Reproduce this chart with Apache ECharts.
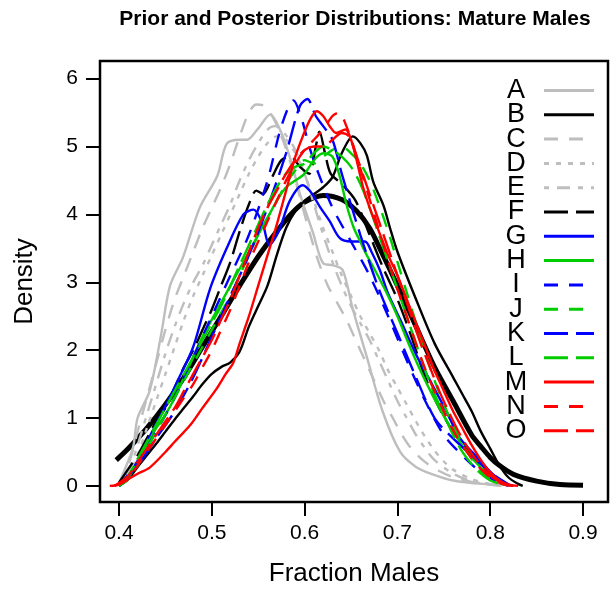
<!DOCTYPE html>
<html>
<head>
<meta charset="utf-8">
<script src="https://cdn.jsdelivr.net/npm/echarts@6/dist/echarts.min.js"></script>
<style>
html,body{margin:0;padding:0;background:#fff}
#chart{width:612px;height:592px}
</style>
</head>
<body>
<div id="chart"></div>
<script>
// tick labels
var xTicks = [0.4, 0.5, 0.6, 0.7, 0.8, 0.9];
var yTicks = [0, 1, 2, 3, 4, 5, 6];

// legend names
var names = ['A','B','C','D','E','F','G','H','I','J','K','L','M','N','O'];

// prior (thick black)
var prior = [[0.397,0.38],[0.41,0.55],[0.43,0.85],[0.45,1.2],[0.47,1.6],[0.49,2.05],[0.51,2.5],[0.53,2.95],[0.55,3.38],[0.57,3.75],[0.585,4.0],[0.60,4.18],[0.62,4.28],[0.64,4.22],[0.656,4.05],[0.67,3.8],[0.681,3.5],[0.70,2.95],[0.72,2.35],[0.74,1.75],[0.76,1.25],[0.78,0.75],[0.79,0.58],[0.80,0.42],[0.81,0.3],[0.825,0.17],[0.85,0.07],[0.875,0.02],[0.90,0.01]];

// posterior curves: [fraction males, density]
var curveA = [[0.400,0.03],[0.404,0.17],[0.415,0.56],[0.42,1.0],[0.433,1.4],[0.445,2.2],[0.455,2.95],[0.469,3.37],[0.487,4.1],[0.506,4.57],[0.516,5.04],[0.530,5.1],[0.538,5.1],[0.549,5.25],[0.563,5.47],[0.575,5.2],[0.585,4.8],[0.595,4.3],[0.609,3.73],[0.620,3.28],[0.631,3.25],[0.641,3.18],[0.652,2.6],[0.667,1.9],[0.684,1.1],[0.703,0.5],[0.72,0.28],[0.738,0.17],[0.76,0.08],[0.792,0.03],[0.818,0.02]];
var curveB = [[0.40,0],[0.41,0.1],[0.42,0.28],[0.43,0.45],[0.44,0.62],[0.45,0.8],[0.46,0.98],[0.47,1.15],[0.48,1.32],[0.49,1.5],[0.50,1.65],[0.51,1.75],[0.52,1.82],[0.53,1.98],[0.54,2.35],[0.55,2.65],[0.56,2.95],[0.57,3.4],[0.58,3.8],[0.59,4.05],[0.60,4.2],[0.61,4.3],[0.62,4.4],[0.63,4.55],[0.64,4.9],[0.652,5.15],[0.66,5.05],[0.667,4.87],[0.674,4.48],[0.685,4.13],[0.692,3.8],[0.70,3.45],[0.72,2.75],[0.74,2.1],[0.76,1.6],[0.77,1.35],[0.78,1.1],[0.79,0.8],[0.80,0.55],[0.81,0.3],[0.82,0.12],[0.83,0.03],[0.835,0]];
var curveC = [[0.40,0],[0.41,0.3],[0.42,0.8],[0.43,1.3],[0.44,1.8],[0.45,2.3],[0.46,2.75],[0.47,3.1],[0.48,3.45],[0.49,3.8],[0.50,4.1],[0.51,4.4],[0.52,4.75],[0.53,5.15],[0.54,5.5],[0.548,5.62],[0.556,5.6],[0.565,5.45],[0.575,5.15],[0.585,4.75],[0.595,4.25],[0.605,3.75],[0.615,3.3],[0.625,2.95],[0.635,2.7],[0.645,2.45],[0.655,2.15],[0.665,1.85],[0.675,1.55],[0.685,1.25],[0.695,1.0],[0.705,0.75],[0.715,0.55],[0.73,0.35],[0.745,0.22],[0.76,0.13],[0.78,0.06],[0.80,0.02],[0.815,0]];
var curveD = [[0.40,0],[0.41,0.15],[0.42,0.45],[0.43,0.85],[0.44,1.25],[0.45,1.65],[0.46,2.05],[0.47,2.45],[0.48,2.8],[0.49,3.1],[0.50,3.4],[0.51,3.7],[0.52,4.0],[0.53,4.3],[0.54,4.6],[0.55,4.85],[0.56,5.05],[0.57,5.15],[0.58,5.1],[0.59,4.9],[0.60,4.6],[0.61,4.2],[0.62,3.8],[0.63,3.45],[0.64,3.1],[0.65,2.8],[0.66,2.5],[0.67,2.25],[0.68,2.0],[0.69,1.7],[0.70,1.45],[0.71,1.2],[0.72,0.95],[0.73,0.72],[0.74,0.52],[0.75,0.36],[0.76,0.24],[0.78,0.1],[0.80,0.03],[0.815,0]];
var curveE = [[0.40,0],[0.41,0.2],[0.42,0.6],[0.43,1.05],[0.44,1.5],[0.45,1.95],[0.46,2.35],[0.47,2.7],[0.48,3.0],[0.49,3.25],[0.50,3.55],[0.51,3.85],[0.52,4.15],[0.53,4.5],[0.54,4.8],[0.55,5.05],[0.56,5.25],[0.568,5.3],[0.578,5.2],[0.59,4.95],[0.60,4.6],[0.61,4.15],[0.62,3.7],[0.63,3.3],[0.64,2.95],[0.65,2.65],[0.66,2.4],[0.67,2.15],[0.68,1.85],[0.69,1.55],[0.70,1.25],[0.71,1.0],[0.72,0.75],[0.73,0.55],[0.74,0.38],[0.76,0.18],[0.78,0.07],[0.80,0.02],[0.815,0]];
var curveF = [[0.40,0.05],[0.41,0.25],[0.42,0.45],[0.43,0.7],[0.44,0.95],[0.45,1.15],[0.46,1.45],[0.47,1.75],[0.48,2.0],[0.49,2.3],[0.50,2.6],[0.51,2.95],[0.52,3.3],[0.53,3.75],[0.54,4.15],[0.548,4.35],[0.555,4.3],[0.565,4.55],[0.575,4.8],[0.585,4.85],[0.595,4.7],[0.605,4.6],[0.612,5.0],[0.616,5.22],[0.622,4.9],[0.628,4.6],[0.64,4.45],[0.655,4.2],[0.67,3.7],[0.685,3.2],[0.70,2.75],[0.715,2.2],[0.73,1.6],[0.745,1.15],[0.76,0.8],[0.775,0.55],[0.79,0.3],[0.805,0.12],[0.82,0.02]];
var curveG = [[0.400,0],[0.412,0.17],[0.43,0.65],[0.452,1.23],[0.465,1.6],[0.48,2.05],[0.498,2.9],[0.516,3.5],[0.534,4.0],[0.545,4.07],[0.555,3.85],[0.562,3.55],[0.572,3.75],[0.584,4.2],[0.598,4.43],[0.606,4.34],[0.617,4.1],[0.627,3.9],[0.638,3.65],[0.65,3.6],[0.665,3.6],[0.672,3.45],[0.681,3.18],[0.69,2.83],[0.703,2.45],[0.721,1.91],[0.738,1.48],[0.753,1.09],[0.767,0.71],[0.786,0.42],[0.803,0.17],[0.818,0.03],[0.825,0]];
var curveH = [[0.40,0],[0.41,0.12],[0.42,0.35],[0.43,0.6],[0.44,0.85],[0.45,1.05],[0.46,1.3],[0.47,1.6],[0.48,1.9],[0.49,2.2],[0.50,2.45],[0.51,2.7],[0.52,2.95],[0.53,3.2],[0.54,3.45],[0.55,3.7],[0.56,3.95],[0.57,4.2],[0.58,4.4],[0.59,4.5],[0.60,4.6],[0.61,4.8],[0.62,4.9],[0.63,4.85],[0.638,4.55],[0.645,4.15],[0.653,3.8],[0.66,3.6],[0.665,3.45],[0.675,3.2],[0.69,2.8],[0.70,2.5],[0.715,2.0],[0.73,1.55],[0.745,1.15],[0.76,0.8],[0.775,0.5],[0.79,0.27],[0.805,0.1],[0.815,0.02]];
var curveI = [[0.40,0],[0.42,0.35],[0.44,0.8],[0.46,1.3],[0.48,1.9],[0.50,2.5],[0.52,3.1],[0.54,3.7],[0.56,4.5],[0.575,5.3],[0.588,5.68],[0.597,5.4],[0.605,5.0],[0.615,4.6],[0.63,4.1],[0.65,3.6],[0.67,3.1],[0.69,2.5],[0.71,1.85],[0.73,1.25],[0.75,0.75],[0.77,0.45],[0.79,0.2],[0.81,0.05],[0.82,0]];
var curveJ = [[0.40,0],[0.41,0.1],[0.42,0.3],[0.43,0.55],[0.44,0.8],[0.45,1.05],[0.46,1.3],[0.47,1.55],[0.48,1.8],[0.49,2.05],[0.50,2.3],[0.51,2.55],[0.52,2.8],[0.53,3.1],[0.54,3.4],[0.55,3.7],[0.56,3.95],[0.57,4.2],[0.58,4.45],[0.59,4.65],[0.60,4.8],[0.61,4.75],[0.62,4.85],[0.63,4.95],[0.64,5.0],[0.65,4.9],[0.66,4.75],[0.67,4.5],[0.68,4.15],[0.69,3.75],[0.70,3.3],[0.71,2.85],[0.72,2.4],[0.73,1.95],[0.74,1.55],[0.75,1.2],[0.76,0.9],[0.77,0.62],[0.78,0.4],[0.79,0.22],[0.80,0.1],[0.815,0.02]];
var curveK = [[0.40,0],[0.42,0.3],[0.44,0.7],[0.46,1.1],[0.48,1.6],[0.50,2.2],[0.52,2.8],[0.54,3.4],[0.56,4.1],[0.58,4.9],[0.595,5.6],[0.603,5.7],[0.612,5.45],[0.62,5.3],[0.63,5.1],[0.64,4.6],[0.66,3.7],[0.68,2.9],[0.70,2.25],[0.72,1.6],[0.74,1.0],[0.76,0.7],[0.78,0.45],[0.80,0.2],[0.82,0.02]];
var curveL = [[0.40,0],[0.41,0.15],[0.42,0.4],[0.43,0.65],[0.44,0.9],[0.45,1.15],[0.46,1.4],[0.47,1.65],[0.48,1.9],[0.49,2.15],[0.50,2.4],[0.51,2.65],[0.52,2.95],[0.53,3.25],[0.54,3.55],[0.55,3.85],[0.56,4.15],[0.57,4.4],[0.58,4.6],[0.59,4.7],[0.60,4.75],[0.61,4.9],[0.62,5.0],[0.63,4.95],[0.64,4.85],[0.65,4.7],[0.66,4.45],[0.67,4.1],[0.68,3.7],[0.69,3.3],[0.70,2.9],[0.71,2.5],[0.72,2.1],[0.73,1.7],[0.74,1.35],[0.75,1.05],[0.76,0.75],[0.77,0.5],[0.78,0.32],[0.79,0.18],[0.80,0.08],[0.815,0.01]];
var curveM = [[0.39,0],[0.40,0.02],[0.41,0.1],[0.42,0.18],[0.433,0.27],[0.45,0.5],[0.46,0.65],[0.477,0.9],[0.49,1.15],[0.505,1.43],[0.515,1.65],[0.523,1.81],[0.53,2.1],[0.54,2.5],[0.55,2.95],[0.56,3.4],[0.57,3.85],[0.58,4.35],[0.59,4.85],[0.598,5.15],[0.606,5.4],[0.613,5.52],[0.62,5.45],[0.627,5.3],[0.634,5.2],[0.644,5.25],[0.65,5.1],[0.656,4.8],[0.663,4.4],[0.67,4.1],[0.68,3.75],[0.69,3.4],[0.70,3.1],[0.71,2.75],[0.72,2.4],[0.73,2.05],[0.74,1.7],[0.75,1.4],[0.76,1.1],[0.77,0.85],[0.78,0.6],[0.79,0.38],[0.80,0.2],[0.81,0.08],[0.82,0.02],[0.83,0]];
var curveN = [[0.395,0],[0.41,0.12],[0.42,0.3],[0.43,0.5],[0.44,0.7],[0.45,0.9],[0.46,1.1],[0.47,1.3],[0.48,1.5],[0.49,1.75],[0.50,2.0],[0.51,2.3],[0.52,2.6],[0.53,2.95],[0.54,3.3],[0.55,3.6],[0.56,3.9],[0.57,4.2],[0.58,4.5],[0.59,4.75],[0.60,4.95],[0.61,5.1],[0.62,5.25],[0.63,5.45],[0.637,5.5],[0.645,5.3],[0.655,4.9],[0.665,4.45],[0.675,4.0],[0.685,3.55],[0.695,3.1],[0.705,2.7],[0.715,2.3],[0.725,1.9],[0.735,1.55],[0.745,1.25],[0.755,0.95],[0.765,0.7],[0.775,0.5],[0.785,0.32],[0.795,0.18],[0.805,0.08],[0.815,0.02],[0.825,0]];
var curveO = [[0.395,0],[0.41,0.15],[0.42,0.35],[0.43,0.55],[0.44,0.75],[0.45,0.95],[0.46,1.15],[0.47,1.4],[0.48,1.65],[0.49,1.9],[0.50,2.15],[0.51,2.45],[0.52,2.75],[0.53,3.1],[0.54,3.45],[0.55,3.8],[0.56,4.1],[0.57,4.35],[0.58,4.6],[0.59,4.8],[0.60,4.95],[0.61,5.0],[0.62,5.0],[0.63,5.1],[0.64,5.2],[0.648,5.15],[0.655,4.9],[0.665,4.5],[0.675,4.1],[0.685,3.7],[0.695,3.3],[0.705,2.9],[0.715,2.5],[0.725,2.1],[0.735,1.75],[0.745,1.4],[0.755,1.1],[0.765,0.82],[0.775,0.58],[0.785,0.38],[0.795,0.22],[0.805,0.1],[0.815,0.03],[0.825,0]];

var curves = [curveA, curveB, curveC, curveD, curveE, curveF, curveG, curveH,
              curveI, curveJ, curveK, curveL, curveM, curveN, curveO];

var GRAY = '#BEBEBE', BLUE = '#0000FF', GREEN = '#00CD00', RED = '#FF0000';
var colors = [GRAY, '#000', GRAY, GRAY, GRAY, '#000', BLUE, GREEN,
              BLUE, GREEN, BLUE, GREEN, RED, RED, RED];
var DASH = [14, 11], LONG = [24, 8], DOT = [5, 7], DOTDASH = [5, 8, 13, 8];
var dashes = ['solid', 'solid', DASH, DOT, DOTDASH, LONG, 'solid', 'solid',
              DASH, DASH, LONG, LONG, 'solid', DASH, LONG];

var FONT = 'Liberation Sans, Arial, Helvetica, sans-serif';

var series = [{
    name: 'Prior',
    type: 'line',
    data: prior,
    symbol: 'none',
    smooth: 0.3,
    lineStyle: {color: '#000', width: 5},
    z: 1
}];
for (var i = 0; i < names.length; i++) {
    series.push({
        name: names[i],
        type: 'line',
        data: curves[i],
        symbol: 'none',
        smooth: 0.3,
        itemStyle: {color: colors[i]},
        lineStyle: {color: colors[i], width: 2.4, type: dashes[i]},
        z: 2
    });
}

var myChart = echarts.init(document.getElementById('chart'));
var option = {
    animation: false,
    backgroundColor: '#fff',
    title: {
        text: 'Prior and Posterior Distributions: Mature Males',
        left: 355, top: 9, padding: 0,
        textAlign: 'center',
        textStyle: {fontFamily: FONT, fontSize: 21, fontWeight: 'bold', color: '#000'}
    },
    grid: {
        left: 100, right: 4, top: 61, bottom: 84,
        show: true, borderColor: '#000', borderWidth: 2.5, backgroundColor: 'transparent'
    },
    legend: {
        orient: 'vertical', left: 493, top: 77, padding: 0, itemGap: -2.7,
        align: 'right', itemWidth: 50, itemHeight: 10,
        selectedMode: false,
        data: names,
        formatter: '{a|{name}}',
        itemStyle: {opacity: 0},
        lineStyle: {width: 3},
        textStyle: {
            rich: {a: {width: 46, align: 'center', fontSize: 27, lineHeight: 27,
                       color: '#000', fontFamily: FONT}}
        }
    },
    xAxis: {
        type: 'value', min: 0.3795, max: 0.9269,
        name: 'Fraction Males', nameLocation: 'middle', nameGap: 59,
        nameTextStyle: {fontFamily: FONT, fontSize: 26, color: '#000'},
        splitLine: {show: false},
        axisLine: {show: false, onZero: false},
        axisTick: {show: true, length: 14, customValues: xTicks,
                   lineStyle: {color: '#000', width: 2}},
        axisLabel: {customValues: xTicks, fontFamily: FONT, fontSize: 21, color: '#000', margin: 21}
    },
    yAxis: {
        type: 'value', min: -0.237, max: 6.26,
        name: 'Density', nameLocation: 'middle', nameGap: 62,
        nameTextStyle: {fontFamily: FONT, fontSize: 26, color: '#000'},
        splitLine: {show: false},
        axisLine: {show: false, onZero: false},
        axisTick: {show: true, length: 14, customValues: yTicks,
                   lineStyle: {color: '#000', width: 2}},
        axisLabel: {customValues: yTicks, fontFamily: FONT, fontSize: 21, color: '#000', margin: 22}
    },
    series: series
};
myChart.setOption(option);
</script>
</body>
</html>
